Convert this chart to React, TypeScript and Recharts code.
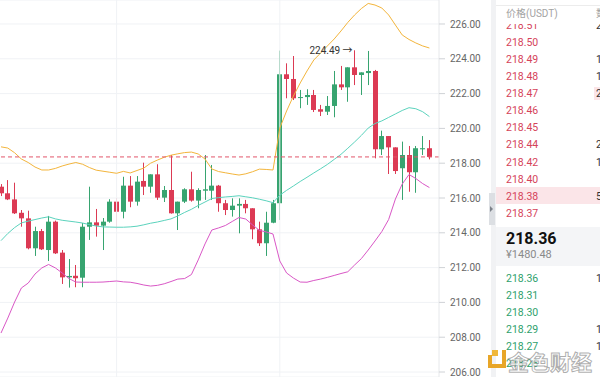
import React from 'react';
import { ComposedChart, Bar, Line, XAxis, YAxis, CartesianGrid, ReferenceLine, ReferenceDot } from 'recharts';

// ---- candle data (64 candles) ----
const opens = [216.65, 216.27, 215.92, 215.15, 214.83, 213.11, 214.10, 213.01, 214.64, 212.86, 211.44, 211.53, 211.42, 214.35, 214.60, 214.41, 214.64, 215.79, 215.21, 216.71, 215.79, 216.98, 216.65, 217.36, 216.02, 216.46, 215.12, 215.79, 216.50, 215.85, 216.42, 216.42, 216.71, 215.70, 215.31, 215.56, 215.66, 215.41, 214.20, 213.40, 214.58, 215.70, 223.11, 222.84, 221.75, 221.80, 221.92, 221.10, 220.96, 221.29, 222.53, 222.36, 223.51, 223.07, 223.18, 223.30, 218.80, 219.56, 218.91, 217.71, 218.47, 217.48, 218.80, 218.86];
const highs = [216.80, 217.03, 216.88, 215.31, 215.27, 214.35, 214.22, 214.97, 214.70, 213.01, 212.49, 212.15, 214.56, 216.65, 215.37, 214.85, 215.93, 216.00, 217.22, 217.26, 217.26, 218.03, 217.36, 217.94, 216.69, 218.47, 215.79, 216.56, 217.51, 216.56, 218.47, 217.90, 216.75, 215.89, 215.98, 215.98, 215.89, 215.41, 214.64, 215.21, 215.89, 224.47, 223.74, 224.16, 222.21, 222.25, 222.21, 221.35, 221.86, 223.30, 223.59, 223.51, 224.49, 223.22, 224.45, 223.36, 219.87, 219.56, 218.91, 219.24, 218.99, 218.99, 219.56, 219.33];
const lows = [216.11, 215.88, 215.08, 214.35, 213.05, 212.67, 213.01, 212.38, 212.78, 211.06, 210.85, 210.87, 210.87, 213.59, 213.78, 213.01, 214.58, 214.22, 214.83, 215.47, 215.56, 216.17, 216.30, 215.89, 215.77, 215.10, 214.16, 215.71, 215.79, 215.41, 215.89, 215.89, 215.21, 215.02, 214.93, 213.97, 215.12, 213.63, 213.24, 212.67, 214.55, 214.74, 221.73, 221.63, 221.16, 221.35, 220.94, 220.71, 220.77, 220.64, 222.21, 221.53, 222.49, 221.92, 222.49, 218.28, 218.47, 217.38, 217.38, 215.89, 216.36, 216.30, 218.47, 218.22];
const closes = [216.27, 215.92, 215.12, 214.83, 213.11, 214.10, 213.05, 214.64, 212.82, 211.44, 211.52, 211.39, 214.35, 214.60, 214.41, 214.64, 215.79, 215.21, 216.71, 215.79, 216.94, 216.65, 217.36, 216.02, 216.46, 215.12, 215.79, 216.50, 215.85, 216.46, 216.50, 216.71, 215.70, 215.31, 215.56, 215.66, 215.41, 214.20, 213.40, 214.58, 215.70, 223.11, 222.84, 221.73, 221.80, 221.92, 221.06, 220.96, 221.29, 222.53, 222.36, 223.51, 223.07, 223.22, 223.30, 218.80, 219.56, 218.91, 217.55, 218.47, 217.48, 218.86, 218.86, 218.36];

// ---- Bollinger bands ----
const upperBand = [218.94, 218.87, 218.60, 218.24, 218.04, 217.78, 217.61, 217.61, 217.70, 217.84, 217.95, 218.04, 217.94, 217.75, 217.60, 217.54, 217.48, 217.42, 217.53, 217.44, 217.58, 217.72, 218.00, 218.18, 218.34, 218.46, 218.54, 218.61, 218.64, 218.53, 218.24, 217.67, 217.52, 217.45, 217.38, 217.32, 217.39, 217.51, 217.66, 217.64, 217.61, 220.02, 221.00, 221.86, 222.61, 223.30, 223.93, 224.33, 224.74, 225.14, 225.60, 226.09, 226.52, 226.89, 227.18, 227.09, 226.92, 226.52, 225.94, 225.37, 225.11, 224.91, 224.74, 224.62];
const middleBand = [213.55, 213.96, 214.30, 214.57, 214.67, 214.76, 214.85, 214.92, 214.80, 214.72, 214.67, 214.62, 214.56, 214.47, 214.39, 214.34, 214.33, 214.32, 214.32, 214.34, 214.38, 214.46, 214.55, 214.62, 214.71, 214.80, 214.97, 215.17, 215.35, 215.57, 215.77, 215.97, 216.02, 216.06, 216.09, 216.13, 216.07, 216.01, 215.93, 215.84, 215.73, 216.16, 216.44, 216.69, 216.95, 217.19, 217.44, 217.68, 217.93, 218.22, 218.51, 218.86, 219.22, 219.60, 220.02, 220.28, 220.43, 220.63, 220.83, 221.03, 221.19, 221.13, 220.96, 220.68];
const lowerBand = [208.24, 209.10, 210.02, 210.83, 211.11, 211.63, 211.98, 212.18, 211.98, 211.69, 211.37, 211.17, 211.16, 211.16, 211.16, 211.17, 211.20, 211.23, 211.18, 211.16, 211.09, 211.00, 210.94, 210.98, 211.07, 211.20, 211.34, 211.37, 211.60, 212.44, 213.36, 214.16, 214.28, 214.42, 214.65, 214.88, 214.79, 214.45, 214.14, 214.05, 213.93, 212.38, 211.69, 211.40, 211.17, 211.16, 211.26, 211.34, 211.44, 211.55, 211.66, 211.76, 212.15, 212.52, 213.01, 213.53, 214.07, 214.76, 215.94, 216.80, 217.35, 217.12, 216.83, 216.60];

const yTicks = [206, 208, 210, 212, 214, 216, 218, 220, 222, 224, 226];
const lastPrice = 218.36;
const maxHigh = 224.49;
const maxIndex = 52;
const gridIndexes = [17, 41];

// ---- order book ----
const askPrices = ['218.51', '218.50', '218.49', '218.48', '218.47', '218.46', '218.45', '218.44', '218.42', '218.40', '218.38', '218.37'];
const askQty = ['2.318', '', '1.052', '1.734', '2.460', '', '', '2.105', '1.387', '', '5.210', ''];
const bidPrices = ['218.36', '218.31', '218.30', '218.29', '218.27', '218.26'];
const bidQty = ['1.406', '', '', '1.023', '1.517', ''];
const cnyPrice = '¥1480.48';

const data = opens.map((o, i) => ({
  i,
  o,
  h: highs[i],
  l: lows[i],
  c: closes[i],
  range: [lows[i], highs[i]],
  up: upperBand[i],
  mid: middleBand[i],
  lo: lowerBand[i],
}));

const UP = '#37a470';
const DOWN = '#dc3a54';
const FONT = "Roboto, 'Noto Sans CJK SC', sans-serif";

const Candle = (props: any) => {
  const { x, y, width, height, payload } = props;
  if (x == null || y == null || !payload) return null;
  const { o, h, l, c } = payload;
  const ppu = height / (h - l);
  const cx = x + width / 2;
  const bx = Math.round(cx - 2.5);
  const wx = bx + 2.5;
  const top = y + (h - Math.max(o, c)) * ppu;
  const bot = y + (h - Math.min(o, c)) * ppu;
  const color = c < o ? DOWN : UP;
  return (
    <g>
      <line x1={wx} x2={wx} y1={y} y2={y + height} stroke={color} strokeWidth={1} />
      <rect x={bx} y={top} width={5} height={Math.max(1, bot - top)} fill={color} />
    </g>
  );
};

const MaxLabel = (p: any) => {
  const vb = p.viewBox || {};
  return (
    <text x={vb.x - 2} y={vb.y + 3.5} textAnchor="end" fontSize={10} fill="#333" fontFamily={FONT}>
      {maxHigh.toFixed(2) + ' →'}
    </text>
  );
};

const rowStyle = (center: number): React.CSSProperties => ({
  position: 'absolute',
  left: 0,
  top: center - 8.5,
  height: 17,
  lineHeight: '17px',
  width: 104,
});

export default function App() {
  return (
    <div style={{ position: 'fixed', left: 0, top: 0, width: 600, height: 377, overflow: 'hidden', background: '#fff', fontFamily: FONT }}>
      <ComposedChart width={600} height={377} data={data} margin={{ top: 0, right: 0, bottom: 0, left: 0 }}>
        <CartesianGrid vertical={false} stroke="#f0f2f5" />
        <XAxis dataKey="i" type="number" domain={[-0.147, 64.41]} hide allowDataOverflow />
        <YAxis
          orientation="right"
          domain={[205.713, 227.379]}
          ticks={yTicks}
          allowDataOverflow
          width={161}
          interval={0}
          tickFormatter={(v: number) => v.toFixed(2)}
          tick={{ fontSize: 10, fill: '#666', fontFamily: FONT }}
          tickLine={{ stroke: '#cfd2d6' }}
          axisLine={{ stroke: '#e6e8eb' }}
          tickSize={6}
          tickMargin={5}
        />
        {gridIndexes.map((g) => (
          <ReferenceLine key={g} x={g} stroke="#f0f2f5" />
        ))}
        <Line dataKey="up" stroke="#f3b53c" strokeWidth={1} dot={false} activeDot={false} isAnimationActive={false} type="linear" />
        <Line dataKey="mid" stroke="#5bd3bd" strokeWidth={1} dot={false} activeDot={false} isAnimationActive={false} type="linear" />
        <Line dataKey="lo" stroke="#d957c6" strokeWidth={1} dot={false} activeDot={false} isAnimationActive={false} type="linear" />
        <Bar dataKey="range" barSize={5} shape={<Candle />} activeBar={false} isAnimationActive={false} />
        <ReferenceLine y={lastPrice} stroke="#e2566a" strokeDasharray="4 3" />
        <ReferenceDot x={maxIndex} y={maxHigh} r={0} fill="none" stroke="none" label={<MaxLabel />} />
      </ComposedChart>

      {/* side strip + handle */}
      <div style={{ position: 'absolute', left: 491, top: 0, width: 5, height: 377, background: '#f1f2f4' }} />
      <div style={{ position: 'absolute', left: 489, top: 193, width: 6, height: 32, background: '#dcdfe3' }}>
        <div style={{ position: 'absolute', left: 1, top: 13, width: 0, height: 0, borderTop: '3px solid transparent', borderBottom: '3px solid transparent', borderLeft: '3px solid #7d828a' }} />
      </div>

      {/* order book panel */}
      <div style={{ position: 'absolute', left: 496, top: 0, width: 104, height: 377, overflow: 'hidden', background: '#fff' }}>
        {/* asks */}
        <div style={{ position: 'absolute', left: 0, top: 0, width: 104, height: 227, overflow: 'hidden' }}>
          <div style={{ position: 'absolute', left: 0, top: 187, width: 104, height: 17, background: '#fbe5e8' }} />
          <div style={{ position: 'absolute', left: 98, top: 87, width: 6, height: 13, background: '#fbe5e8' }} />
          {askPrices.map((p, k) => (
            <div key={p} style={rowStyle(25.2 + 17.1 * k)}>
              <span style={{ position: 'absolute', left: 10, fontSize: 10.5, color: '#d5435a' }}>{p}</span>
              <span style={{ position: 'absolute', left: 100, fontSize: 10.5, color: '#333', whiteSpace: 'nowrap' }}>{askQty[k]}</span>
            </div>
          ))}
          {/* header */}
          <div style={{ position: 'absolute', left: 0, top: 5, width: 104, height: 18, background: '#fff', borderTop: '1px solid #ececec' }}>
            <span style={{ position: 'absolute', left: 10, top: 1, lineHeight: '14px', fontSize: 10, color: '#a3a3a3' }}>价格(USDT)</span>
            <span style={{ position: 'absolute', left: 100, top: 1, lineHeight: '14px', fontSize: 10, color: '#a3a3a3', whiteSpace: 'nowrap' }}>数量(SOL)</span>
          </div>
        </div>
        {/* mid price */}
        <div style={{ position: 'absolute', left: 0, top: 227, width: 104, height: 39, background: '#f4f5f7' }}>
          <div style={{ position: 'absolute', left: 10, top: 2, fontSize: 16, fontWeight: 'bold', color: '#111', lineHeight: '20px' }}>{lastPrice.toFixed(2)}</div>
          <div style={{ position: 'absolute', left: 10, top: 21, fontSize: 11, color: '#8a8a8a', lineHeight: '14px' }}>{cnyPrice}</div>
        </div>
        {/* bids */}
        {bidPrices.map((p, k) => (
          <div key={p} style={rowStyle(278.2 + 17.05 * k)}>
            <span style={{ position: 'absolute', left: 10, fontSize: 10.5, color: '#2f9f6d' }}>{p}</span>
            <span style={{ position: 'absolute', left: 100, fontSize: 10.5, color: '#333', whiteSpace: 'nowrap' }}>{bidQty[k]}</span>
          </div>
        ))}
      </div>

      {/* watermark */}
      <svg style={{ position: 'absolute', left: 484, top: 344 }} width={116} height={33}>
        <rect x={4} y={11} width={4} height={13} fill="#e8a628" />
        <rect x={4} y={20} width={18} height={4} fill="#e8a628" />
        <rect x={18} y={6} width={4} height={18} fill="#e8a628" />
        <rect x={8} y={6} width={6} height={6} fill="#f0b73a" />
        <text x={24} y={26} fontSize={21} fontFamily="'Noto Sans CJK SC', sans-serif" fontWeight="bold" fill="rgba(255,255,255,0.7)" stroke="rgba(120,120,120,0.6)" strokeWidth={1}>金色财经</text>
      </svg>
    </div>
  );
}
